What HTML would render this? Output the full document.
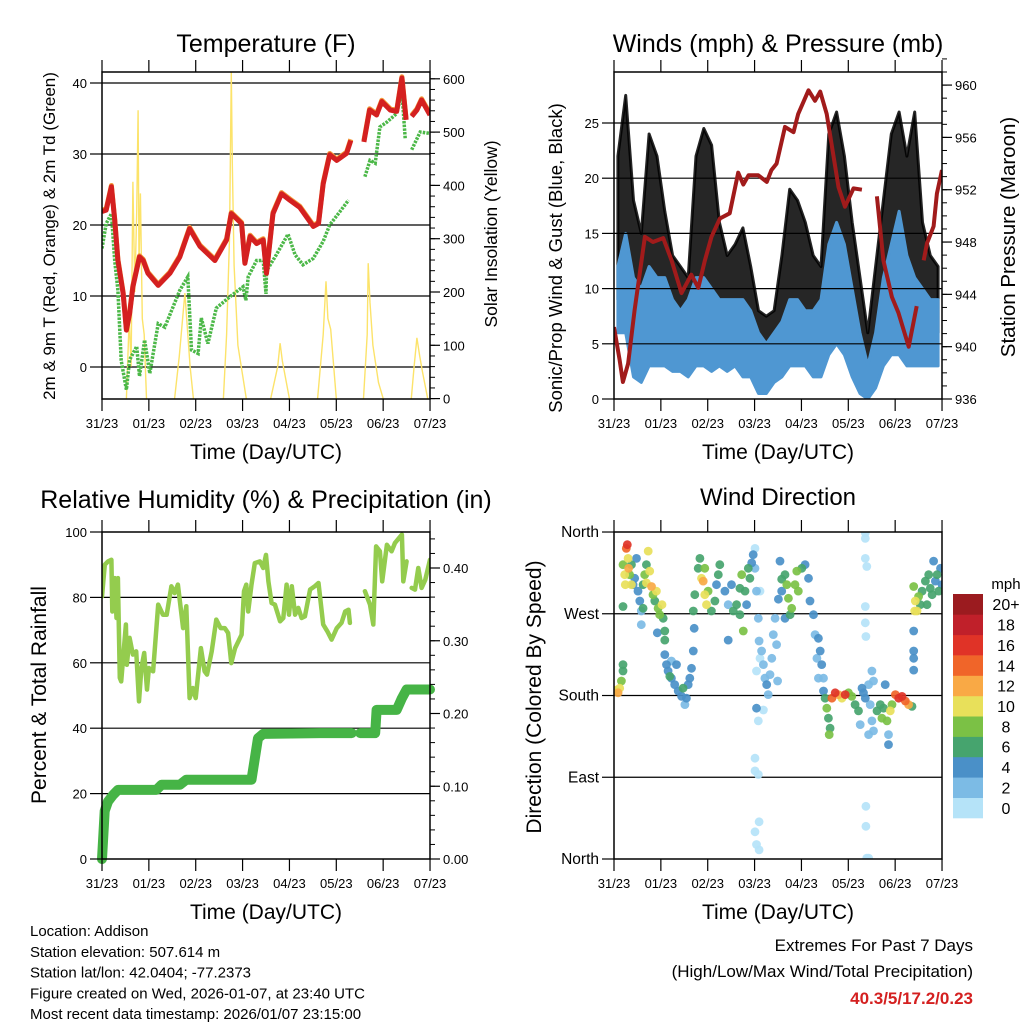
<!DOCTYPE html>
<html><head><meta charset="utf-8">
<style>
html,body{margin:0;padding:0;background:#fff;}
svg{display:block;font-family:"Liberation Sans",Arial,sans-serif;}
</style></head>
<body>
<svg id="c" width="1024" height="1024" viewBox="0 0 1024 1024" xmlns="http://www.w3.org/2000/svg">
<defs>
<clipPath id="cp1"><rect x="102" y="72" width="328" height="327"/></clipPath>
<clipPath id="cp2"><rect x="614" y="72" width="328" height="327"/></clipPath>
<clipPath id="cp3"><rect x="102" y="532" width="328" height="327"/></clipPath>
<clipPath id="cp4"><rect x="614" y="532" width="328" height="327"/></clipPath>
</defs>
<g id="root"></g>
</svg>
<script>
// ---------- DATA ----------
const dayLabels = ["31/23","01/23","02/23","03/23","04/23","05/23","06/23","07/23"];
// Temperature panel
const tTicks = [0,10,20,30,40];
const solTicks = [0,100,200,300,400,500,600];
const redDays = [0,.09,.2,.27,.34,.45,.52,.59,.66,.8,.88,.98,1.2,1.45,1.66,1.87,2.09,2.41,2.66,2.76,2.98,3.05,3.16,3.3,3.44,3.51,3.65,3.83,4.01,4.22,4.51,4.62,4.72,4.86,5.01,5.22,5.31,5.45,5.59,5.71,5.86,5.97,6.15,6.29,6.4,6.49,6.55,6.61,6.72,6.82,7];
const redTemp = [21.9,22.1,25.4,20.7,15,10.4,5.2,7.5,11.3,15.5,15,13.2,11.5,13.2,15.5,19.5,17,15,17.9,21.6,20.2,14.6,18.4,17.4,17.9,13.2,21.6,24.4,23.5,22.5,19.8,20.2,25.8,29.9,29.1,30.1,31.9,null,31.7,36.2,35.5,37.4,36.2,36,40.7,34.8,null,35.3,36.2,37.6,35.5];
const tdDays = [0,.09,.2,.27,.34,.41,.52,.59,.74,.8,.91,1.02,1.2,1.34,1.66,1.83,1.91,2.05,2.12,2.26,2.44,2.73,3.01,3.07,3.12,3.3,3.44,3.5,3.51,3.72,3.97,4.12,4.29,4.51,4.72,4.86,5.08,5.26,5.4,5.61,5.72,5.83,5.93,6.08,6.29,6.4,6.47,6.55,6.61,6.79,7];
const tdTemp = [16.7,20.2,21.6,15,10.8,0.9,-3.2,1,2.9,-1.3,3.8,-0.9,6.1,5.6,10.8,12.7,2.4,1.9,6.9,3.3,8.3,9.9,11.3,9.4,12.7,15,15,10.3,13.5,15.8,18.7,15.8,14.4,15.3,17.7,20,21.9,23.5,null,26.8,29.1,28.7,33.8,34.5,35.7,38.8,32.2,null,30.6,33.1,32.9];
const solDays = [0.52,0.58,0.62,0.66,0.70,0.74,0.77,0.79,0.82,0.86,0.90,0.95,null,1.55,1.65,1.72,1.77,1.83,1.88,1.95,null,2.59,2.66,2.72,2.76,2.78,2.82,2.9,3.08,null,3.6,3.75,3.8,3.85,4.0,null,4.6,4.72,4.78,4.82,4.88,5.0,null,5.58,5.66,5.68,5.72,5.78,5.9,6.0,null,6.6,6.66,6.72,6.78,6.84,6.95];
const solVal = [0,150,60,407,200,350,541,250,385,150,120,0,null,0,80,150,198,120,60,0,null,0,120,300,612,443,250,100,0,null,0,60,104,70,0,null,0,120,220,150,130,0,null,0,120,254,180,100,30,0,null,0,60,114,80,50,0];
// Winds panel (4-hour bins)
const windTicks = [0,5,10,15,20,25];
const presTicks = [936,940,944,948,952,956,960];
const windLo = [6,6,2,1.5,3,3,3,2.5,2.5,2,3,3,2.5,3,2.5,3,2,2,0.5,0.5,1.5,2,3,3,3,2,2,4,5,4,2,0.5,0,1,3,4,4,3,3,3,3,3];
const windHi = [12,15,11,10,12,11,11,9,8,9,11,11,10,9,9,9,9,8,6,5,6,7,9,9,8,8,9,14,16,14,10,6,3,6,11,14,17,13,11,10,9,9];
const gustLo = [9,10,6,5,8,6,6,5,5,5,7,8,6,5,4,5,5,4,2,2,3,4,6,6,5,4,5,9,10,9,6,2,0,2,6,9,9,8,8,8,7,6];
const gustHi = [22,27.5,18,15,24,22,17,13,12,11,22,24.5,23,16,13,14,15.5,12,8,7.5,8,13,19,18,16,13,12,24,26,22,16,11,6,12,18,24,26,22,26,16,13,12];
const presDays = [0,.12,.19,.3,.44,.66,.83,1.05,1.23,1.44,1.65,1.8,1.94,2.08,2.26,2.47,2.65,2.76,2.87,3.08,3.26,3.36,3.47,3.65,3.83,3.93,4.15,4.29,4.4,4.54,4.79,4.93,5.11,5.29,5.45,5.61,5.75,5.93,6.07,6.29,6.46,6.53,6.61,6.68,6.82,6.89,7];
const presVal = [941.5,939,937.3,938.7,942.8,948.4,948,948.3,946.6,944.1,945.5,944.5,946.6,948.4,949.8,950.2,953.3,952.4,953.1,953.1,952.6,953.5,954,956.8,956.4,957.8,959.6,958.8,959.5,957.8,952.2,950.7,952.1,952,null,951.5,946.6,943.8,942.6,940,943.1,null,946.6,947.9,949.2,951.7,953.5];
// RH / precip panel
const rhTicks = [0,20,40,60,80,100];
const prTicks = [0,0.1,0.2,0.3,0.4];
const rhDays = [0,.06,.13,.2,.22,.27,.31,.34,.38,.41,.51,.53,.59,.66,.73,.79,.84,.9,.96,1.0,1.09,1.2,1.3,1.38,1.48,1.55,1.62,1.73,1.8,1.87,1.94,2.0,2.11,2.19,2.24,2.34,2.44,2.53,2.62,2.69,2.76,2.84,2.98,3.03,3.08,3.12,3.19,3.26,3.37,3.44,3.5,3.55,3.62,3.69,3.8,3.87,3.94,3.99,4.05,4.12,4.19,4.26,4.33,4.44,4.54,4.62,4.72,4.81,4.9,5.01,5.11,5.19,5.26,5.29,5.45,5.61,5.72,5.79,5.85,5.93,5.98,6.08,6.18,6.25,6.4,6.43,6.5,6.55,6.61,6.68,6.75,6.82,6.9,7];
const rhVal = [80.3,90,91,91.5,75.7,85.9,73.7,85.9,55.4,54.3,71.7,59.4,67.6,62.5,63.5,48.2,58.4,63,51.8,58.4,57.4,77.8,74.7,74.7,83.4,81.3,83.9,70.6,77.3,49.2,52.3,49.2,64.5,57.4,56.4,63.5,73.2,70.6,70.6,69.1,59.9,64.5,68.6,81.9,83.9,75.7,83.9,90.5,91,89,93,84.9,78.3,77.8,72.7,73.7,83.9,74.7,83.4,74.7,76.8,73.7,74.2,82.4,83.4,84.4,71.7,69.6,67.1,70.6,72.2,75.7,76.2,72.2,null,81.9,77.8,71.7,95.6,94.1,84.9,96.1,94.1,96.6,99.2,84.9,91,null,82.9,82.4,89,82.9,85.4,91.5];
const prDays = [0,.057,.128,.235,.342,1.16,1.27,1.66,1.8,3.19,3.33,3.44,4.65,5.33,5.42,5.51,5.83,5.86,6.29,6.4,6.5,7];
const prVal = [0,.066,.079,.088,.095,.095,.102,.102,.109,.109,.166,.172,.173,.173,null,.173,.173,.205,.205,.221,.233,.233];
// Wind direction panel (hours since start, degrees, mph)
const dirTicks = [0,90,180,270,360];
const dirLabels = ["North","East","South","West","North"];
const speedBins = ["0","2","4","6","8","10","12","14","16","18","20+"];
const speedColors = ["#b5e3f8","#7cbbe5","#4a90c8","#46a46e","#7bc145","#e8e05a","#f9a945","#f06529","#e03327","#c0202a","#9b1b1f"];
const wdHour = [0,1.2,2.1,2.9,3.8,4.6,4.6,
4.6,5.5,6.3,6.8,7.2,7.5,8.0,8.9,9.8,10.6,11.5,12.3,13.2,14.0,14.0,14.9,4.6,8.9,5.8,
15.7,16.6,17.5,18.3,19.2,20,20.9,21.7,22.6,23.4,24.6,25.2,26,26,22.2,14.9,16.6,
26,26.9,27.7,29.4,31.1,32.9,34.6,36.3,37.1,38,38.8,39.7,40.6,29.4,32,35.4,28.6,
40.6,41.4,43.1,44.8,45.7,46.5,47.4,48.2,49.9,51.7,53.4,54.2,52.5,46.5,44,41.1,
56.8,58.5,58.5,60.2,61.1,62.8,64.5,65.4,66.2,67.1,67.9,68.8,69.6,70.5,71.3,64.5,
72.2,72.2,73,73.9,74.3,74.8,73,75.6,76.5,77.3,78.2,79,79.9,80.8,81.6,82.5,83.3,83.8,73,73.9,76.5,72.2,72.2,73.9,74.3,72.2,73,74.3,74.8,
85,85.9,87.6,88.5,89.3,91,92.7,93.6,94.4,96.2,97.9,99.6,100.4,87.6,90.2,84.2,85.9,
102.2,103,104.7,105.6,106.4,107.3,103.9,104.7,107.3,
108.1,109,109.8,110.7,110.2,111.6,113.3,115,116.7,118.4,120.1,121.8,123.5,125.2,127,127.8,128.7,130.4,131.2,132.1,132.9,134.7,136.4,137.2,138.1,139.8,140.6,141.5,142.4,144.1,145.8,147.5,149.2,150.9,152.6,132.1,132.9,138.9,140.6,126.1,130.4,
128.7,128.7,128.7,129.5,128.7,128.7,129,129,129,129.5,130.4,
153.5,154.3,155.2,156,156.9,157.8,159.5,161.2,162,162.9,164.6,165.5,166.3,167.2,168,163.7,160.3,153.5,153.5,153.5,153.5,154];
const wdDir = [185,186,183,188,196,207,214,
324,313,342,346,331,320,313,324,302,309,331,295,284,273,258,276,278,302,302,
313,304,339,317,300,291,284,295,276,269,280,265,251,241,249,302,324,
225,214,207,199,192,185,179,170,177,192,199,210,229,218,214,188,201,
273,291,320,309,306,291,280,295,273,284,313,324,302,320,331,254,
295,280,241,302,273,280,269,313,251,295,280,320,309,326,335,298,
342,320,295,265,240,221,207,229,214,199,192,181,203,221,247,265,236,196,166,152,164,111,97,93,41,30,16,10,295,
328,295,313,302,287,276,302,317,295,320,324,309,284,265,269,286,308,
269,247,243,229,214,199,221,199,185,
177,166,155,144,137,177,183,181,177,181,183,179,170,163,188,183,177,192,170,152,141,163,170,155,166,152,137,163,170,181,177,179,174,170,168,207,196,192,126,148,137,
359,353,331,322,278,260,245,58,36,1,1,
300,284,273,289,280,295,306,313,298,291,306,313,295,320,302,328,280,251,229,221,208,273];
const wdSpd = [6,10,12,10,8,7,6,
8,10,14,16,10,12,8,6,4,4,4,4,4,2,2,6,7,10,10,
8,10,10,10,12,8,6,10,8,9,10,6,6,6,4,6,6,
4,4,5,5,4,4,4,3,4,4,5,4,4,3,4,6,6,
6,6,7,10,12,10,10,8,6,6,6,7,5,8,7,4,
5,3,4,4,6,6,7,8,8,6,5,7,6,4,4,6,
1,2,2,2,2,1,1,2,2,2,4,3,2,2,2,2,2,2,4,1,1,1,1,1,1,1,1,1,1,
4,4,6,8,8,8,8,8,8,6,4,4,4,4,7,4,6,
4,3,4,4,4,3,2,2,5,
6,8,7,7,8,14,16,12,10,16,9,8,6,7,4,4,4,2,2,2,3,6,6,9,7,8,3,10,9,14,16,16,14,12,7,2,2,4,4,3,2,
1,1,1,1,1,1,1,1,1,0,0,
9,10,10,8,7,7,6,6,7,6,5,7,6,4,4,4,6,4,4,4,4,10];

// ---------- SCALES ----------
const DX = 46.86;
const x1 = d => 102 + d*DX;
const x2 = d => 614 + d*DX;
const yT = t => 367 - t*7.1;
const yS = s => 398.6 - s*0.533;
const yW = w => 399 - w*11.04;
const yP = p => 399 - (p-936)*13.08;
const yRH = r => 859 - r*3.27;
const yPr = p => 859 - p*727.5;
const x4 = h => 614 + h/24*DX;
const yD = d => 859 - d*0.9083;

const NS = "http://www.w3.org/2000/svg";
const root = document.getElementById('root');
function mk(tag, attrs, parent){
  const e = document.createElementNS(NS, tag);
  for (const k in attrs) e.setAttribute(k, attrs[k]);
  (parent||root).appendChild(e);
  return e;
}
function txt(s, x, y, size, anchor, parent, extra){
  const t = mk('text', Object.assign({x:x, y:y, 'font-size':size, 'text-anchor':anchor||'middle', fill:'#000'}, extra||{}), parent);
  t.textContent = s;
  return t;
}
function pathFrom(xs, ys, fx, fy){
  let d = '', pen = false;
  for (let i=0;i<xs.length;i++){
    if (xs[i]===null || ys[i]===null){ pen=false; continue; }
    d += (pen?'L':'M') + fx(xs[i]).toFixed(1) + ' ' + fy(ys[i]).toFixed(1) + ' ';
    pen = true;
  }
  return d;
}
function frame(x0, y0, name){
  const g = mk('g', {});
  
  
  mk('rect', {x:x0, y:y0, width:328, height:327, fill:'none', stroke:'#000', 'stroke-width':1.5}, g);
  for (let i=0;i<8;i++){
    const x = x0 + i*DX;
    mk('line', {x1:x, y1:y0-12, x2:x, y2:y0, stroke:'#000', 'stroke-width':1.2}, g);
    mk('line', {x1:x, y1:y0+327, x2:x, y2:y0+339, stroke:'#000', 'stroke-width':1.2}, g);
    const t = txt(dayLabels[i], x, y0+356, 13, 'middle', g);
    
    
  }
  const xt = txt('Time (Day/UTC)', x0+164, y0+387, 21, 'middle', g);
  
  
  return g;
}
function hgrid(vals, fy, x0, g){
  vals.forEach(v=>{
    const y = fy(v);
    if (y>x0.top+1 && y<x0.bot-1) mk('line', {x1:x0.l, y1:y, x2:x0.r, y2:y, stroke:'#000', 'stroke-width':1.2}, g);
  });
}
function leftTicks(vals, labels, fy, xl, g, size){
  vals.forEach((v,i)=>{
    const y = fy(v);
    mk('line', {x1:xl-12, y1:y, x2:xl, y2:y, stroke:'#000', 'stroke-width':1.2}, g);
    const t = txt(labels[i], xl-15, y+5, size||13, 'end', g);
    
    
  });
}
function rightTicks(vals, labels, fy, xr, g, minorFrom, minorTo, minorStep){
  if (minorStep){
    for (let v=minorFrom; v<=minorTo+1e-9; v+=minorStep){
      const y = fy(v);
      mk('line', {x1:xr, y1:y, x2:xr+5, y2:y, stroke:'#000', 'stroke-width':1}, g);
    }
  }
  vals.forEach((v,i)=>{
    const y = fy(v);
    mk('line', {x1:xr, y1:y, x2:xr+10, y2:y, stroke:'#000', 'stroke-width':1.2}, g);
    const t = txt(labels[i], xr+13, y+5, 13, 'start', g);
    
    
  });
}
function vtitle(s, x, y, size, g){
  const t = txt(s, 0, 0, size, 'middle', g, {transform:'translate('+x+','+y+') rotate(-90)'});
  return t;
}

// ---------- PANEL 1: TEMPERATURE ----------
{
  const g = mk('g', {});
  
  
  const t = txt('Temperature (F)', 266, 52, 25, 'middle', g);
  
  
  const pl = mk('g', {'clip-path':'url(#cp1)'}, g);
  hgrid(tTicks, yT, {l:102, r:430, top:72, bot:399}, pl);
  const sol = mk('path', {d:pathFrom(solDays, solVal, x1, yS), fill:'none', stroke:'#fce36a', 'stroke-width':1.4}, pl);
  
  
  const td = mk('path', {d:pathFrom(tdDays, tdTemp, x1, yT), fill:'none', stroke:'#4cb848', 'stroke-width':3.5, 'stroke-dasharray':'2.5 1.2'}, pl);
  
  
  const or = mk('path', {d:pathFrom(redDays, redTemp, x1, t=>yT(t)-1.2), fill:'none', stroke:'#f39a3a', 'stroke-width':5, 'stroke-linejoin':'round'}, pl);
  
  
  const rd = mk('path', {d:pathFrom(redDays, redTemp, x1, yT), fill:'none', stroke:'#d42020', 'stroke-width':5, 'stroke-linejoin':'round'}, pl);
  
  
  frame(102, 72, 'temperature');
  leftTicks(tTicks, tTicks.map(String), yT, 102, g);
  rightTicks(solTicks, solTicks.map(String), yS, 430, g, 0, 600, 20);
  const lt = vtitle('2m & 9m T (Red, Orange) & 2m Td (Green)', 55, 236, 17, g);
  
  
  const rt = vtitle('Solar Insolation (Yellow)', 497, 234, 17.5, g);
  
  
}

// ---------- PANEL 2: WINDS ----------
{
  const g = mk('g', {});
  
  
  const t = txt('Winds (mph) & Pressure (mb)', 778, 52, 25, 'middle', g);
  
  
  const pl = mk('g', {'clip-path':'url(#cp2)'}, g);
  const binX = i => (i+0.5)/6;
  function band(lo, hi, fill, op, name){
    let d = '';
    for (let i=0;i<hi.length;i++) d += (i?'L':'M') + x2(binX(i)).toFixed(1)+' '+yW(hi[i]).toFixed(1)+' ';
    for (let i=lo.length-1;i>=0;i--) d += 'L' + x2(binX(i)).toFixed(1)+' '+yW(lo[i]).toFixed(1)+' ';
    const p = mk('path', {d:d+'Z', fill:fill, 'fill-opacity':op, stroke:fill, 'stroke-opacity':op, 'stroke-width':3, 'stroke-linejoin':'round'}, pl);
    
    
  }
  band(gustLo, gustHi, '#000', 0.85, 'gust-scatter');
  band(windLo, windHi, '#4f97d2', 1, 'sustained-wind');
  hgrid(windTicks, yW, {l:614, r:942, top:72, bot:399}, pl);
  const pr = mk('path', {d:pathFrom(presDays, presVal, x2, yP), fill:'none', stroke:'#a11b1b', 'stroke-width':4, 'stroke-linejoin':'round'}, pl);
  
  
  frame(614, 72, 'winds');
  leftTicks(windTicks, windTicks.map(String), yW, 614, g);
  rightTicks(presTicks, presTicks.map(String), yP, 942, g, 936, 962, 1);
  const lt = vtitle('Sonic/Prop Wind & Gust (Blue, Black)', 562, 258, 18.5, g);
  
  
  const rt = vtitle('Station Pressure (Maroon)', 1015, 237, 20.5, g);
  
  
}

// ---------- PANEL 3: RH & PRECIP ----------
{
  const g = mk('g', {});
  
  
  const t = txt('Relative Humidity (%) & Precipitation (in)', 266, 508, 25, 'middle', g);
  
  
  const pl = mk('g', {'clip-path':'url(#cp3)'}, g);
  hgrid(rhTicks, yRH, {l:102, r:430, top:532, bot:859}, pl);
  const rh = mk('path', {d:pathFrom(rhDays, rhVal, x1, yRH), fill:'none', stroke:'#94cc4e', 'stroke-width':4.5, 'stroke-linejoin':'round', 'stroke-linecap':'round'}, pl);
  
  
  const pr = mk('path', {d:pathFrom(prDays, prVal, x1, yPr), fill:'none', stroke:'#46b446', 'stroke-width':10, 'stroke-linejoin':'round', 'stroke-linecap':'round'}, g);
  
  
  frame(102, 532, 'humidity');
  leftTicks(rhTicks, rhTicks.map(String), yRH, 102, g);
  rightTicks(prTicks, prTicks.map(v=>v.toFixed(2)), yPr, 430, g, 0, 0.44, 0.02);
  const lt = vtitle('Percent & Total Rainfall', 46, 695, 21, g);
  
  
}

// ---------- PANEL 4: WIND DIRECTION ----------
{
  const g = mk('g', {});
  
  
  const t = txt('Wind Direction', 778, 505, 24, 'middle', g);
  
  
  const pl = mk('g', {'clip-path':'url(#cp4)'}, g);
  hgrid(dirTicks, yD, {l:614, r:942, top:532, bot:859}, pl);
  const idx = wdHour.map((_,i)=>i).sort((a,b)=>wdSpd[a]-wdSpd[b]);
  idx.forEach(i=>{
    const b = Math.min(10, Math.floor(wdSpd[i]/2));
    const c = mk('circle', {cx:x4(wdHour[i]).toFixed(1), cy:yD(wdDir[i]).toFixed(1), r:4.4, fill:speedColors[b], 'fill-opacity':0.92}, pl);
    
    
  });
  frame(614, 532, 'wind-direction');
  leftTicks(dirTicks, dirLabels, yD, 614, g, 15.5);
  const lt = vtitle('Direction (Colored By Speed)', 541, 697, 21, g);
  
  
  // colorbar
  const cb = mk('g', {}, g);
  
  
  const mt = txt('mph', 1006, 589, 15, 'middle', cb);
  
  
  const bh = 224/11;
  for (let k=0;k<11;k++){
    const y = 818 - (k+1)*bh;
    const r = mk('rect', {x:953, y:y.toFixed(1), width:30, height:(bh+0.3).toFixed(1), fill:speedColors[k]}, cb);
    
    
    const lt2 = txt(speedBins[k], 1006, y+bh/2+6, 16, 'middle', cb);
    
    
  }
}

// ---------- FOOTER ----------
{
  const g = mk('g', {});
  
  
  ["Location: Addison","Station elevation: 507.614 m","Station lat/lon: 42.0404; -77.2373","Figure created on Wed, 2026-01-07, at 23:40 UTC","Most recent data timestamp: 2026/01/07 23:15:00"].forEach((s,i)=>{
    const t = txt(s, 30, 936+i*20.8, 15, 'start', g);
    
    
  });
  const g2 = mk('g', {});
  
  
  const a = txt('Extremes For Past 7 Days', 973, 951, 17, 'end', g2);
  
  
  const b = txt('(High/Low/Max Wind/Total Precipitation)', 973, 977, 17, 'end', g2);
  
  
  const c = txt('40.3/5/17.2/0.23', 973, 1004, 17, 'end', g2, {fill:'#d42020', 'font-weight':'bold'});
  
  
}
</script>
</body></html>
